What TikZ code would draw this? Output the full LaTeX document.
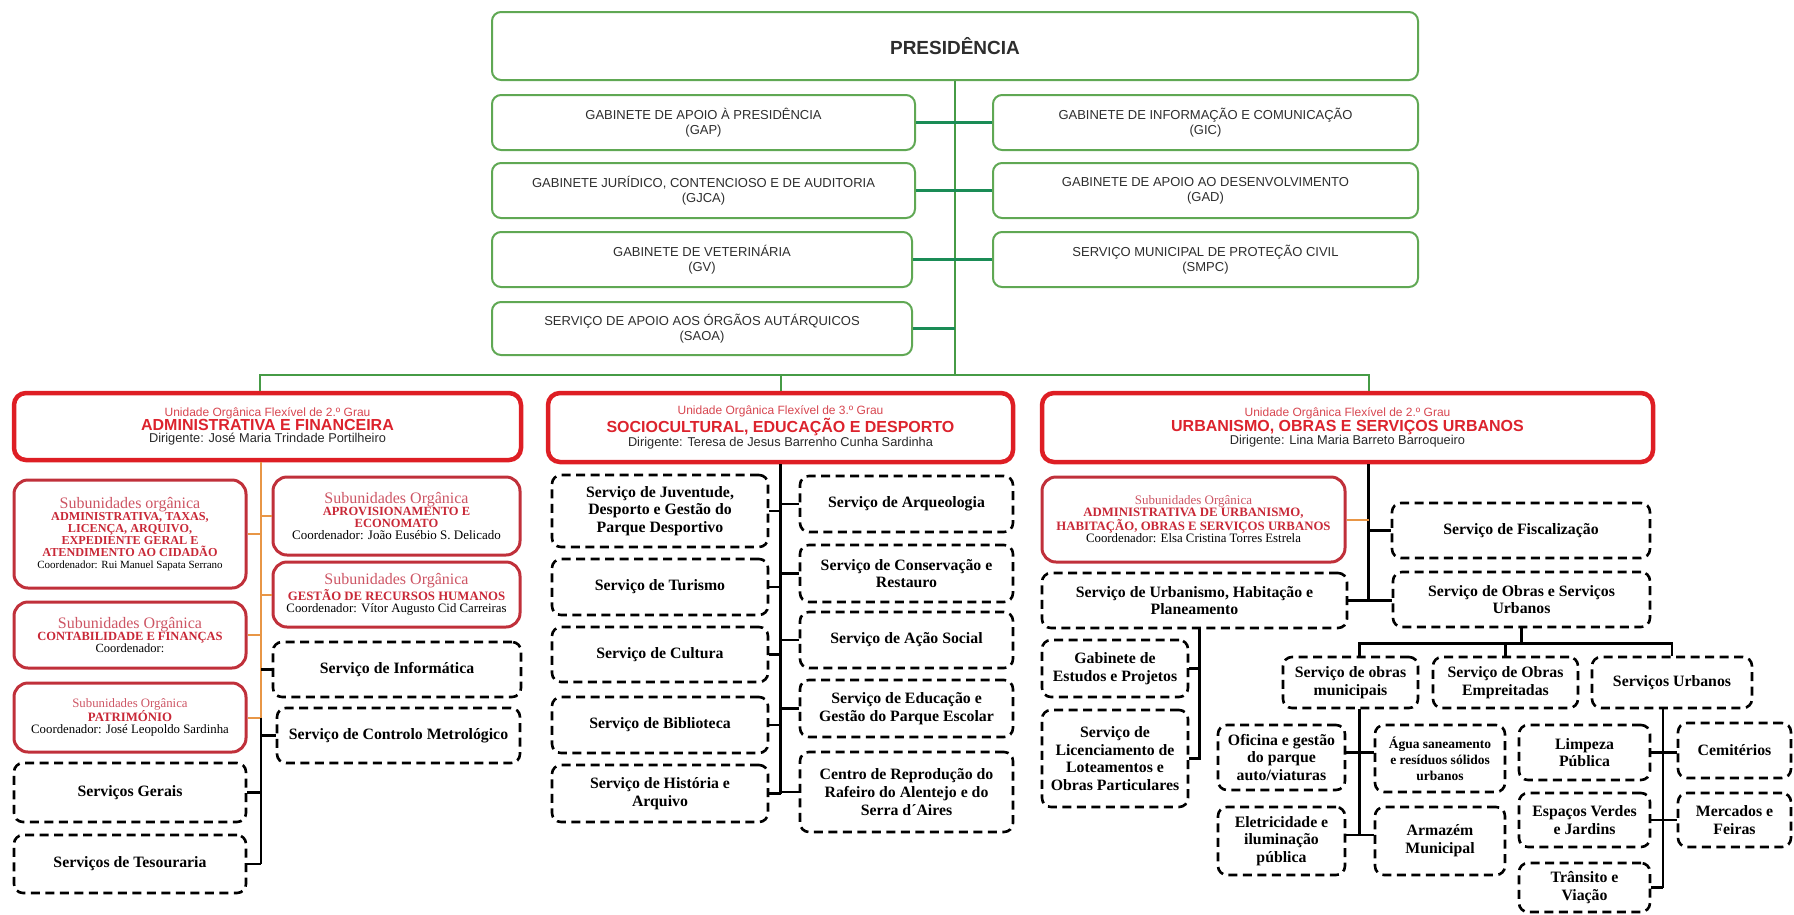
\documentclass[tikz,border=0pt]{standalone}
\usepackage{fontspec}
\setmainfont{Liberation Serif}
\newfontfamily\sansf{Liberation Sans}
\newfontfamily\serf{Liberation Serif}
\newcommand\fs[2]{\fontsize{#1}{#2}\selectfont}
\definecolor{cGBox}{RGB}{96,168,84}
\definecolor{cGCon}{RGB}{26,140,86}
\definecolor{cGTr}{RGB}{70,155,70}
\definecolor{cURed}{RGB}{222,30,36}
\definecolor{cSRed}{RGB}{192,48,58}
\definecolor{cUni}{RGB}{215,70,80}
\definecolor{cTit}{RGB}{220,35,45}
\definecolor{cDir}{RGB}{40,40,40}
\definecolor{cSub}{RGB}{205,85,100}
\definecolor{cCap}{RGB}{200,40,55}
\definecolor{cOrg}{RGB}{232,150,70}
\definecolor{cGTxt}{RGB}{45,45,45}
\newcommand\bx[7]{\node[#2, minimum width={(#5)-(#3)}, minimum height={(#6)-(#4)}] (#1) at ({((#3)+(#5))/2},{((#4)+(#6))/2}) {#7};}
\tikzset{
  gbox/.style={draw=cGBox, line width=2pt, rounded corners=9pt, align=center, text=cGTxt, font=\sansf\fs{13}{15}, inner sep=2pt},
  ubox/.style={draw=cURed, line width=4.5pt, rounded corners=12pt, align=center, inner sep=2pt},
  rbox/.style={draw=cSRed, line width=3pt, rounded corners=14pt, align=center, inner sep=2pt},
  dbox/.style={draw=black, line width=2.6pt, dash pattern=on 9pt off 5.5pt, rounded corners=9pt, align=center, font=\serf\bfseries\fs{15.8}{17.7}, inner sep=2pt},
  gtrunk/.style={draw=cGTr, line width=2pt},
  gcon/.style={draw=cGCon, line width=3.5pt},
  oline/.style={draw=cOrg, line width=2pt},
  bline/.style={draw=black, line width=2.4pt},
}
\newcommand\unitl{\normalfont\sansf\color{cUni}\fs{12}{15}}
\newcommand\unitt{\normalfont\sansf\bfseries\color{cTit}\fs{16}{16}}
\newcommand\unitd{\normalfont\sansf\color{cDir}\fs{12.8}{15}}
\newcommand\subl[1]{\normalfont\serf\color{cSub}\fs{#1}{#1}}
\newcommand\subc[1]{\normalfont\serf\bfseries\color{cCap}\fs{#1}{14.5}}
\newcommand\subk[1]{\normalfont\serf\color{black}\fs{#1}{14.5}}
\begin{document}
\begin{tikzpicture}[x=1pt,y=-1pt]
\useasboundingbox (0,0) rectangle (1794,914);
% ---------- top ----------
\bx{pres}{gbox}{492}{12}{1418}{80}{\bfseries\fs{19}{19}PRESIDÊNCIA}
\bx{gap}{gbox}{492}{95}{915}{150}{GABINETE DE APOIO À PRESIDÊNCIA\\(GAP)}
\bx{gjca}{gbox}{492}{163}{915}{218}{GABINETE JURÍDICO, CONTENCIOSO E DE AUDITORIA\\(GJCA)}
\bx{gv}{gbox}{492}{232}{912}{287}{GABINETE DE VETERINÁRIA\\(GV)}
\bx{saoa}{gbox}{492}{302}{912}{355}{SERVIÇO DE APOIO AOS ÓRGÃOS AUTÁRQUICOS\\(SAOA)}
\bx{gic}{gbox}{993}{95}{1418}{150}{GABINETE DE INFORMAÇÃO E COMUNICAÇÃO\\(GIC)}
\bx{gad}{gbox}{993}{163}{1418}{218}{GABINETE DE APOIO AO DESENVOLVIMENTO\\(GAD)}
\bx{smpc}{gbox}{993}{232}{1418}{287}{SERVIÇO MUNICIPAL DE PROTEÇÃO CIVIL\\(SMPC)}
% ---------- units ----------
\bx{adm}{ubox}{14}{393}{521}{460}{\unitl Unidade Orgânica Flexível de 2.º Grau\\\unitt ADMINISTRATIVA E FINANCEIRA\\\unitd Dirigente: José Maria Trindade Portilheiro}
\bx{soc}{ubox}{548}{393}{1013}{462}{\unitl Unidade Orgânica Flexível de 3.º Grau\\\unitt SOCIOCULTURAL, EDUCAÇÃO E DESPORTO\\\unitd Dirigente: Teresa de Jesus Barrenho Cunha Sardinha}
\bx{urb}{ubox}{1042}{393}{1653}{462}{\unitl Unidade Orgânica Flexível de 2.º Grau\\\unitt URBANISMO, OBRAS E SERVIÇOS URBANOS\\\unitd Dirigente: Lina Maria Barreto Barroqueiro}
\coordinate (bus) at (955,375);
\draw[gtrunk] (pres.south) -- (bus);
\draw[gcon] (gap.east) -- (gic.west);
\draw[gcon] (gjca.east) -- (gad.west);
\draw[gcon] (gv.east) -- (smpc.west);
\draw[gcon] (saoa.east) -- (saoa.east -| pres.south);
\coordinate (admn) at ([xshift=-8pt]adm.north);
\coordinate (urbn) at ([xshift=21pt]urb.north);
\draw[gtrunk] (admn) |- (bus) -| (urbn);
\draw[gtrunk] (soc.north) -- (soc.north |- bus);
% ---------- left column ----------
\bx{sub1}{rbox}{14}{480}{246}{588}{\subl{16}Subunidades orgânica\\\subc{12.2}ADMINISTRATIVA, TAXAS,\\\subc{12.2}LICENÇA, ARQUIVO,\\\subc{12.2}EXPEDIENTE GERAL E\\\subc{12.2}ATENDIMENTO AO CIDADÃO\\\subk{11}Coordenador: Rui Manuel Sapata Serrano}
\bx{aprov}{rbox}{273}{477}{520}{555}{\subl{16}Subunidades Orgânica\\\subc{12.5}APROVISIONAMENTO E\\\subc{12.5}ECONOMATO\\\subk{13}Coordenador: João Eusébio S. Delicado}
\bx{gest}{rbox}{273}{562}{520}{627}{\subl{16}Subunidades Orgânica\\\subc{12.8}GESTÃO DE RECURSOS HUMANOS\\\subk{12.8}Coordenador: Vítor Augusto Cid Carreiras}
\bx{contab}{rbox}{14}{602}{246}{668}{\subl{16}Subunidades Orgânica\\\subc{12.5}CONTABILIDADE E FINANÇAS\\\subk{12.5}Coordenador:}
\bx{patr}{rbox}{14}{683}{246}{752}{\subl{12.8}Subunidades Orgânica\\\subc{12.8}PATRIMÓNIO\\\subk{12.8}Coordenador: José Leopoldo Sardinha}
\bx{info}{dbox}{273}{642}{521}{697}{Serviço de Informática}
\bx{metro}{dbox}{277}{708}{520}{763}{Serviço de Controlo Metrológico}
\bx{gerais}{dbox}{14}{763}{246}{822}{Serviços Gerais}
\bx{tes}{dbox}{14}{835}{246}{893}{Serviços de Tesouraria}
\coordinate (at) at ([xshift=-6.5pt]adm.south);
\draw[oline] (at) -- (at |- patr.east);
\draw[oline] (sub1.east) -- (sub1.east -| at);
\draw[oline] (contab.east) -- (contab.east -| at);
\draw[oline] (patr.east) -- (patr.east -| at);
\draw[oline] (aprov.west) -- (aprov.west -| at);
\draw[oline] (gest.west) -- (gest.west -| at);
\coordinate (atb) at (at |- patr.east);
\draw[bline] (atb) -- (atb |- tes.east);
\draw[bline] (info.west) -- (info.west -| at);
\draw[bline] (metro.west) -- (metro.west -| at);
\draw[bline] (gerais.east) -- (gerais.east -| at);
\draw[bline] (tes.east) -- (tes.east -| at);
% ---------- middle column ----------
\bx{juv}{dbox}{552}{475}{768}{547}{Serviço de Juventude,\\Desporto e Gestão do\\Parque Desportivo}
\bx{tur}{dbox}{552}{559}{768}{615}{Serviço de Turismo}
\bx{cul}{dbox}{552}{627}{768}{682}{Serviço de Cultura}
\bx{bib}{dbox}{552}{697}{768}{753}{Serviço de Biblioteca}
\bx{hist}{dbox}{552}{765}{768}{822}{Serviço de História e\\Arquivo}
\bx{arq}{dbox}{800}{476}{1013}{532}{Serviço de Arqueologia}
\bx{cons}{dbox}{800}{545}{1013}{602}{Serviço de Conservação e\\Restauro}
\bx{acao}{dbox}{800}{612}{1013}{668}{Serviço de Ação Social}
\bx{edu}{dbox}{800}{680}{1013}{737}{Serviço de Educação e\\Gestão do Parque Escolar}
\bx{cent}{dbox}{800}{752}{1013}{832}{Centro de Reprodução do\\Rafeiro do Alentejo e do\\Serra d´Aires}
\draw[bline] (soc.south) -- (soc.south |- hist.east);
\foreach \n in {juv,tur,cul,bib,hist}{\draw[bline] (\n.east) -- (\n.east -| soc.south);}
\foreach \n in {arq,cons,acao,edu,cent}{\draw[bline] (\n.west) -- (\n.west -| soc.south);}
% ---------- right column ----------
\bx{urbsub}{rbox}{1042}{477}{1345}{562}{\subl{13}Subunidades Orgânica\\\subc{12.8}ADMINISTRATIVA DE URBANISMO,\\\subc{12.8}HABITAÇÃO, OBRAS E SERVIÇOS URBANOS\\\subk{12.8}Coordenador: Elsa Cristina Torres Estrela}
\bx{fisc}{dbox}{1392}{503}{1650}{558}{Serviço de Fiscalização}
\bx{suhp}{dbox}{1042}{573}{1347}{628}{Serviço de Urbanismo, Habitação e\\Planeamento}
\bx{sosu}{dbox}{1393}{572}{1650}{627}{Serviço de Obras e Serviços\\Urbanos}
\bx{gab}{dbox}{1042}{640}{1188}{697}{Gabinete de\\Estudos e Projetos}
\bx{lic}{dbox}{1042}{710}{1188}{807}{Serviço de\\Licenciamento de\\Loteamentos e\\Obras Particulares}
\bx{som}{dbox}{1283}{657}{1418}{708}{Serviço de obras\\municipais}
\bx{soe}{dbox}{1433}{657}{1578}{708}{Serviço de Obras\\Empreitadas}
\bx{su}{dbox}{1592}{657}{1752}{708}{Serviços Urbanos}
\bx{ofi}{dbox}{1218}{725}{1345}{790}{Oficina e gestão\\do parque\\auto/viaturas}
\bx{agua}{dbox,font=\serf\bfseries\fs{13.5}{16.2}}{1375}{725}{1505}{792}{Água saneamento\\e resíduos sólidos\\urbanos}
\bx{ele}{dbox}{1218}{807}{1345}{875}{Eletricidade e\\iluminação\\pública}
\bx{arm}{dbox}{1375}{807}{1505}{875}{Armazém\\Municipal}
\bx{limp}{dbox}{1519}{725}{1650}{780}{Limpeza\\Pública}
\bx{cem}{dbox}{1678}{723}{1791}{778}{Cemitérios}
\bx{esp}{dbox}{1519}{793}{1650}{847}{Espaços Verdes\\e Jardins}
\bx{merc}{dbox}{1678}{793}{1791}{847}{Mercados e\\Feiras}
\bx{tran}{dbox}{1519}{863}{1650}{912}{Trânsito e\\Viação}
\coordinate (ut) at ([xshift=21pt]urb.south);
\draw[bline] (ut) -- (ut |- suhp.east);
\draw[oline] (urbsub.east) -- (urbsub.east -| ut);
\draw[bline] (fisc.west) -- (fisc.west -| ut);
\draw[bline] (suhp.east) -- (suhp.east -| sosu.west);
\coordinate (st) at ([xshift=5pt]suhp.south);
\draw[bline] (st) |- (lic.east);
\draw[bline] (gab.east) -- (gab.east -| st);
\coordinate (sb) at ([yshift=-15pt]sosu.south);
\draw[bline] (sosu.south) -- (sb);
\coordinate (smt) at ([xshift=9pt]som.north);
\draw[bline] (smt) |- (sb) -| (su.north);
\draw[bline] (soe.north) -- (soe.north |- sb);
\coordinate (smb) at ([xshift=9pt]som.south);
\coordinate (ofiS) at ([yshift=5pt]ofi.east);
\coordinate (eleS) at ([yshift=6pt]ele.east);
\draw[bline] (smb) -- (smb |- eleS);
\draw[bline] (ofiS) -- (ofiS -| agua.west);
\draw[bline] (eleS) -- (eleS -| arm.west);
\coordinate (sut) at ([xshift=-9pt]su.south);
\draw[bline] (sut) -- (sut |- tran.east);
\draw[bline] (limp.east) -- (limp.east -| cem.west);
\draw[bline] (esp.east) -- (esp.east -| merc.west);
\draw[bline] (tran.east) -- (tran.east -| sut);
\end{tikzpicture}
\end{document}
